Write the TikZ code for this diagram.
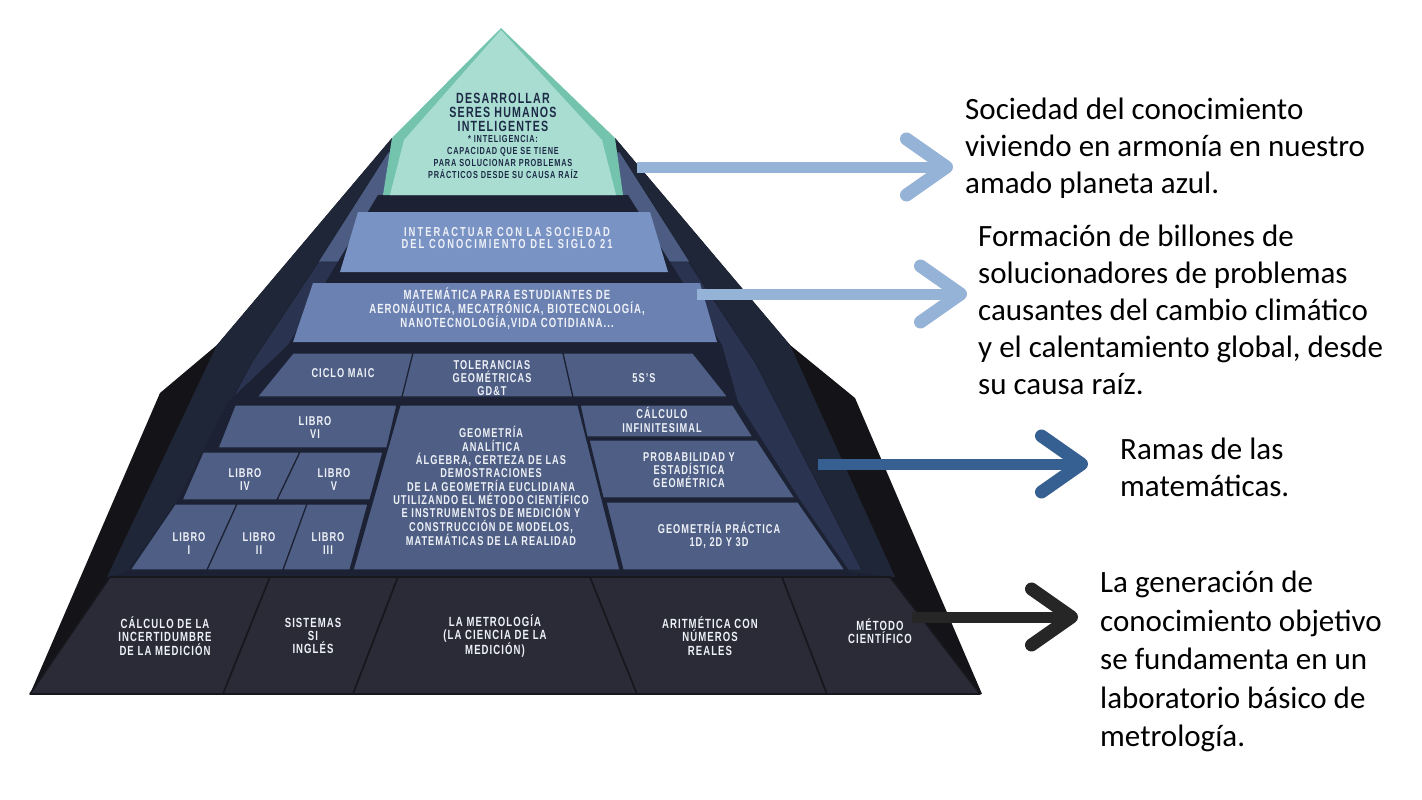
\documentclass[tikz,border=0pt]{standalone}
\usepackage{fontspec}
\usetikzlibrary{arrows.meta,calc}
\newfontfamily\pyrfont[FakeStretch=0.72,LetterSpace=8]{Liberation Sans Bold}
\newfontfamily\pyrwide[FakeStretch=0.72,LetterSpace=16]{Liberation Sans Bold}
\newfontfamily\calfont{Carlito}
\definecolor{outerblack}{HTML}{141418}
\definecolor{navya}{HTML}{1F2637}
\definecolor{navyb}{HTML}{2A3450}
\definecolor{slatecol}{HTML}{4C5C82}
\definecolor{corecol}{HTML}{1C2233}
\definecolor{blockcol}{HTML}{4E5E84}
\definecolor{tierthree}{HTML}{6B81B1}
\definecolor{tiertwo}{HTML}{7A93C5}
\definecolor{basecol}{HTML}{2A2B36}
\definecolor{basesep}{HTML}{17181E}
\definecolor{greendark}{HTML}{74C4AD}
\definecolor{greenlight}{HTML}{A9DDD2}
\definecolor{pyrwhite}{HTML}{EEF1F7}
\definecolor{pyrnavy}{HTML}{1E2B47}
\definecolor{arrlight}{HTML}{95B3D7}
\definecolor{arrblue}{HTML}{376092}
\definecolor{arrblack}{HTML}{262626}
\begin{document}
\begin{tikzpicture}[x=1pt,y=-1pt,
  blk/.style={fill=blockcol, draw=corecol, line width=1.2pt},
  baseblk/.style={fill=basecol, draw=basesep, line width=1.6pt, line join=round},
  pyrtxt/.style={font=\pyrfont\fontsize{12.8}{13.3}\selectfont, text=pyrwhite, align=center, inner sep=0pt},
  pyrbig/.style={pyrtxt, font=\pyrfont\fontsize{13.3}{13.4}\selectfont},
  sidetxt/.style={font=\calfont\fontsize{31}{37}\selectfont, align=left, inner sep=0pt, anchor=north west},
  bigarrow/.style={line width=11pt, -{Straight Barb[length=40pt,width=56pt,line width=13pt,round]}}]
\useasboundingbox (0,0) rectangle (1422,800);
\fill[white] (0,0) rectangle (1422,800);
\fill[outerblack] (30,694) -- (160,393) -- (217,345) -- (392,138) -- (615,138) -- (790,345) -- (855,398) -- (982,694) -- cycle;
\fill[navya] (107,577) -- (217,345) -- (392,138) -- (615,138) -- (790,345) -- (895,577) -- cycle;
\filldraw[navyb, draw=corecol, line width=0.8pt] (140,570) -- (252,362) -- (386,160) -- (621,160) -- (755,362) -- (862,570) -- cycle;
\filldraw[slatecol, draw=corecol, line width=0.8pt] (318,262) -- (388,152) -- (620,152) -- (690,262) -- cycle;
\fill[corecol] (378,195) -- (628,195) -- (722,345) -- (738,402) -- (800,500) -- (850,572) -- (893,577) -- (107,577) -- (127,572) -- (178,500) -- (228,402) -- (288,345) -- cycle;
\fill[greendark] (501,28) -- (392,138) -- (383,195) -- (623,195) -- (615,138) -- cycle;
\fill[greenlight] (501,30) -- (404,140) -- (390,195) -- (616,195) -- (602,140) -- cycle;
\fill[tiertwo] (358,212) -- (650,212) -- (668,272) -- (340,272) -- cycle;
\fill[tierthree] (313,283) -- (700,283) -- (717,342) -- (293,342) -- cycle;
\draw[blk] (293,353) -- (413,353) -- (402,397) -- (257,397) -- cycle;
\draw[blk] (413,353) -- (563,353) -- (573,397) -- (402,397) -- cycle;
\draw[blk] (563,353) -- (693,353) -- (728,397) -- (573,397) -- cycle;
\draw[blk] (235,405) -- (397,405) -- (387,448) -- (218,448) -- cycle;
\draw[blk] (203,452) -- (300,452) -- (277,500) -- (182,500) -- cycle;
\draw[blk] (300,452) -- (383,452) -- (370,500) -- (277,500) -- cycle;
\draw[blk] (175,504) -- (237,504) -- (207,570) -- (130,570) -- cycle;
\draw[blk] (237,504) -- (307,504) -- (283,570) -- (207,570) -- cycle;
\draw[blk] (307,504) -- (368,504) -- (350,570) -- (283,570) -- cycle;
\draw[blk] (400,405) -- (578,405) -- (620,570) -- (353,570) -- cycle;
\draw[blk] (580,405) -- (733,405) -- (753,437) -- (587,437) -- cycle;
\draw[blk] (589,440) -- (757,440) -- (795,498) -- (603,498) -- cycle;
\draw[blk] (606,502) -- (798,502) -- (845,570) -- (623,570) -- cycle;
\draw[baseblk] (110,577) -- (270,577) -- (223,694) -- (30,694) -- cycle;
\draw[baseblk] (270,577) -- (398,577) -- (353,694) -- (223,694) -- cycle;
\draw[baseblk] (398,577) -- (590,577) -- (637,694) -- (353,694) -- cycle;
\draw[baseblk] (590,577) -- (782,577) -- (827,694) -- (637,694) -- cycle;
\draw[baseblk] (782,577) -- (890,577) -- (980,694) -- (827,694) -- cycle;
\node[pyrtxt, text=pyrnavy, font=\pyrfont\fontsize{14.8}{13.6}\selectfont] (goaltitle) at (503,112.5) {DESARROLLAR\\SERES HUMANOS\\INTELIGENTES};
\node[pyrtxt, text=pyrnavy, font=\pyrfont\fontsize{10.2}{11.8}\selectfont] (goalnote) at (503,157) {* INTELIGENCIA:\\CAPACIDAD QUE SE TIENE\\PARA SOLUCIONAR PROBLEMAS\\PRÁCTICOS DESDE SU CAUSA RAÍZ};
\node[pyrbig, font=\pyrwide\fontsize{13}{12.8}\selectfont] (interact) at (507,238) {INTERACTUAR CON LA SOCIEDAD\\DEL CONOCIMIENTO DEL SIGLO 21};
\node[pyrbig] (matem) at (507,309) {MATEMÁTICA PARA ESTUDIANTES DE\\AERONÁUTICA, MECATRÓNICA, BIOTECNOLOGÍA,\\NANOTECNOLOGÍA,VIDA COTIDIANA...};
\node[pyrtxt] (ciclo) at (343,373) {CICLO MAIC};
\node[pyrtxt] (toler) at (492,378) {TOLERANCIAS\\GEOMÉTRICAS\\GD\&T};
\node[pyrtxt] (fives) at (644,378) {5S’S};
\node[pyrtxt] (libro6) at (315,427.5) {LIBRO\\VI};
\node[pyrtxt] (libro4) at (245,479.5) {LIBRO\\IV};
\node[pyrtxt] (libro5) at (334,479.5) {LIBRO\\V};
\node[pyrtxt] (libro1) at (189,543.5) {LIBRO\\I};
\node[pyrtxt] (libro2) at (259,543.5) {LIBRO\\II};
\node[pyrtxt] (libro3) at (328,543.5) {LIBRO\\III};
\node[pyrtxt] (geoan) at (491,486) {GEOMETRÍA\\ANALÍTICA\\ÁLGEBRA, CERTEZA DE LAS\\DEMOSTRACIONES\\DE LA GEOMETRÍA EUCLIDIANA\\UTILIZANDO EL MÉTODO CIENTÍFICO\\E INSTRUMENTOS DE MEDICIÓN Y\\CONSTRUCCIÓN DE MODELOS,\\MATEMÁTICAS DE LA REALIDAD};
\node[pyrtxt] (calc) at (662,420) {CÁLCULO\\INFINITESIMAL};
\node[pyrtxt] (prob) at (689,470) {PROBABILIDAD Y\\ESTADÍSTICA\\GEOMÉTRICA};
\node[pyrtxt] (geopr) at (719,535.5) {GEOMETRÍA PRÁCTICA\\1D, 2D Y 3D};
\node[pyrbig] (incert) at (165,636) {CÁLCULO DE LA\\INCERTIDUMBRE\\DE LA MEDICIÓN};
\node[pyrbig] (sistemas) at (313,636) {SISTEMAS\\SI\\INGLÉS};
\node[pyrbig] (metrol) at (495,636) {LA METROLOGÍA\\(LA CIENCIA DE LA\\MEDICIÓN)};
\node[pyrbig] (aritm) at (710,636) {ARITMÉTICA CON\\NÚMEROS\\REALES};
\node[pyrbig] (metodo) at (880,631) {MÉTODO\\CIENTÍFICO};
\node[sidetxt] (goaltxt) at (965,98) {Sociedad del conocimiento\\viviendo en armonía en nuestro\\amado planeta azul.};
\node[sidetxt] (solvtxt) at (978,225) {Formación de billones de\\solucionadores de problemas\\causantes del cambio climático\\y el calentamiento global, desde\\su causa raíz.};
\node[sidetxt] (ramastxt) at (1120,438) {Ramas de las\\matemáticas.};
\node[sidetxt, font=\calfont\fontsize{31}{38.5}\selectfont] (labtxt) at (1100,571) {La generación de\\conocimiento objetivo\\se fundamenta en un\\laboratorio básico de\\metrología.};
\coordinate (a1) at (637,167);
\coordinate (a2) at (697,294);
\coordinate (a3) at (818,464);
\coordinate (a4) at (912,617);
\draw[bigarrow, arrlight] (a1) -- ($(a1 -| goaltxt.west)+(-12,0)$);
\draw[bigarrow, arrlight] (a2) -- ($(a2 -| solvtxt.west)+(-11,0)$);
\draw[bigarrow, arrblue] (a3) -- ($(a3 -| ramastxt.west)+(-32,0)$);
\draw[bigarrow, arrblack] (a4) -- ($(a4 -| labtxt.west)+(-22,0)$);
\end{tikzpicture}
\end{document}
